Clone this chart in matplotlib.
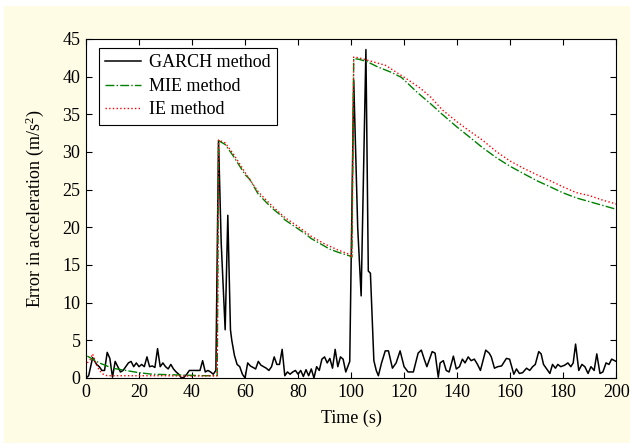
import matplotlib
matplotlib.use('Agg')
import matplotlib.pyplot as plt
from matplotlib.patches import Rectangle

# GARCH method (time, error)
garch_t = [0, 1, 2.5, 4, 5, 6, 7, 8, 9, 10, 11, 12, 13, 14, 15, 16, 17, 18, 19, 20,
           21, 22, 23, 24, 25, 26, 27, 28, 29, 30, 31, 32, 33, 34, 35, 36, 37, 38, 39, 40,
           42, 43, 44, 45, 46, 47, 48, 49, 50, 51, 52.5, 53.5, 54.5, 55, 56, 57, 58, 59, 60,
           61, 62, 63, 64, 65, 66, 67, 68, 69, 70, 71, 72, 73, 74, 75, 76, 77, 78, 79, 80,
           81, 82, 83, 84, 85, 86, 87, 88, 89, 90, 91, 92, 93, 94, 95, 96, 97, 98, 99.5,
           101, 102.5, 103.8, 105.6, 106.5, 107.3, 108.6, 109.5, 110.3, 111.5, 112.9, 114.1,
           115.6, 117, 118.5, 120, 121.5, 123.5, 125.3, 126.5, 127.6, 128.6, 130.6, 131.7,
           132.9, 133.6, 134.8, 135.9, 137, 138.6, 139.7, 140.9, 142, 143, 144.2, 145.3,
           146.5, 147.7, 148.8, 150.8, 152.1, 152.9, 154.1, 155.3, 156.8, 158.6, 159.8,
           161.4, 162.4, 163.5, 164.7, 166.2, 167.4, 168.5, 169.5, 170.8, 171.7, 172.6,
           173.8, 175, 176, 177.1, 178, 179.1, 180.6, 181.8, 182.9, 183.8, 184.7, 185.9,
           187.1, 188.2, 189.4, 190.5, 191.7, 192.7, 193.9, 195, 196.2, 197.3, 198.3, 200]
garch_v = [0, 0.3, 2.7, 1.8, 1.5, 1.0, 1.0, 3.4, 2.6, 0.1, 2.2, 1.5, 0.8, 1.0, 1.5, 2.0, 2.2, 1.5, 2.0, 1.5,
           1.8, 1.5, 2.8, 1.5, 1.6, 1.4, 3.9, 1.5, 2.0, 1.5, 1.2, 1.8, 1.2, 0.8, 0.5, 0.0, 0.1, 0.5, 1.0, 1.0,
           1.0, 1.0, 2.3, 0.8, 1.0, 0.8, 0.5, 1.0, 31.5, 18.0, 6.4, 21.6, 6.4, 5.0, 3.0, 1.8, 1.5, 0.5, 0.0,
           2.0, 1.6, 1.4, 1.2, 2.2, 1.7, 1.5, 1.3, 1.0, 1.5, 2.8, 1.8, 1.8, 3.8, 0.3, 0.8, 0.5, 0.8, 1.0, 0.5,
           1.0, 0.2, 1.1, 0.3, 1.2, 0.0, 1.5, 1.0, 2.5, 2.8, 2.0, 2.6, 1.3, 3.8, 1.5, 2.8, 2.5, 0.8, 2.2,
           39.5, 20.0, 10.9, 43.6, 14.2, 13.9, 2.3, 1.0, 0.3, 2.0, 3.6, 3.6,
           1.3, 2.0, 3.6, 1.5, 0.8, 0.8, 3.3, 3.7, 2.5, 1.5, 3.5, 3.3,
           0.1, 2.0, 2.3, 1.0, 0.8, 2.9, 1.2, 1.5, 2.5, 2.0, 2.8, 2.3,
           2.5, 1.8, 1.0, 3.7, 3.3, 2.8, 1.3, 1.5, 1.6, 2.6, 2.5,
           0.5, 1.2, 0.6, 0.7, 1.3, 1.0, 1.5, 1.8, 3.5, 3.2, 1.8,
           1.2, 0.6, 1.8, 1.3, 1.8, 1.5, 1.7, 2.0, 1.5, 2.0, 4.5, 1.0,
           1.8, 1.5, 0.6, 1.5, 1.0, 3.2, 0.6, 0.8, 2.0, 1.8, 2.5, 2.2]

# MIE method
mie_t = [0.5, 2, 5, 10, 15, 20, 25, 30, 35, 40, 45, 49.5, 50, 52.5, 55.5, 60, 61.7, 65, 70,
         73.8, 75, 80, 82.9, 85, 90, 92, 95, 99.5, 100.3, 101, 103, 106, 110, 115, 119,
         125, 130, 134.4, 140, 145, 149.5, 155, 160, 164.7, 170, 175, 179.8, 185, 190, 195, 200]
mie_v = [2.9, 2.6, 2.0, 1.3, 1.0, 0.7, 0.5, 0.45, 0.4, 0.35, 0.3, 0.3, 31.5, 31.0, 29.5, 27.0, 26.4, 24.4, 22.6,
         21.5, 21.0, 19.8, 19.1, 18.5, 17.5, 17.1, 16.7, 16.2, 16.0, 42.4, 42.3, 42.0, 41.3, 40.6, 39.9,
         37.9, 36.4, 35.0, 33.3, 31.9, 30.6, 29.2, 28.1, 27.2, 26.2, 25.4, 24.6, 23.9, 23.4, 22.9, 22.4]

# IE method
ie_t = [0.5, 1.5, 2.5, 3.5, 5, 6.5, 8, 12, 20, 30, 40, 49.5, 50, 52.5, 55.5, 60, 65, 70, 75,
        80, 85, 90, 95, 99.5, 100.3, 101, 103, 106, 110, 113, 117, 121, 126, 130, 134.4,
        140, 145, 149.5, 155, 160, 164.7, 170, 175, 179.8, 185, 190, 195, 200]
ie_v = [2.0, 2.4, 3.2, 2.2, 1.0, 0.5, 0.3, 0.3, 0.3, 0.3, 0.25, 0.3, 31.6, 31.2, 29.8, 27.3, 24.7, 22.9, 21.3,
        20.1, 18.8, 17.8, 17.0, 16.4, 16.0, 42.6, 42.5, 42.2, 41.8, 41.5, 40.6, 39.7, 38.5, 37.3, 35.6,
        34.0, 32.7, 31.6, 30.0, 28.8, 27.9, 27.0, 26.2, 25.4, 24.6, 24.2, 23.6, 23.1]

plt.rcParams['font.family'] = ['Liberation Serif', 'DejaVu Serif']
plt.rcParams['mathtext.default'] = 'regular'
plt.rcParams['xtick.direction'] = 'in'
plt.rcParams['ytick.direction'] = 'in'

fig = plt.figure(figsize=(6.3, 4.45), dpi=100, facecolor='white')
fig.patches.append(Rectangle((0.007, 0.004), 0.993, 0.982, transform=fig.transFigure,
                             facecolor='#FEFCE4', edgecolor='none', zorder=-10))
ax = fig.add_axes([0.1365, 0.1506, 0.8415, 0.7618])

ax.plot(garch_t, garch_v, color='black', lw=1.1, label='GARCH method')
ax.plot(mie_t, mie_v, color='#008000', lw=1.0, ls='-.', label='MIE method')
ax.plot(ie_t, ie_v, color='red', lw=1.0, ls=':', label='IE method')

ax.set_xlim(0, 200)
ax.set_ylim(0, 45)
ax.set_xticks(range(0, 201, 20))
ax.set_yticks(range(0, 46, 5))
ax.tick_params(labelsize=13, top=True, right=True, length=4, width=0.8)
ax.tick_params(axis='x', pad=4.5)
ax.tick_params(axis='y', pad=4)
for s in ax.spines.values():
    s.set_linewidth(0.8)
ax.set_xlabel('Time (s)', fontsize=13, labelpad=6)
ax.set_ylabel('Error in acceleration (m/s$^2$)', fontsize=13, labelpad=12)

leg = ax.legend(loc='upper left', bbox_to_anchor=(0.0245, 0.973), borderaxespad=0,
                fontsize=13, fancybox=False, edgecolor='black', framealpha=1,
                handlelength=2.0, labelspacing=0.36, borderpad=0.35, handletextpad=0.4)
leg.get_frame().set_linewidth(0.8)

fig.savefig('out.png', dpi=100, facecolor=fig.get_facecolor())
